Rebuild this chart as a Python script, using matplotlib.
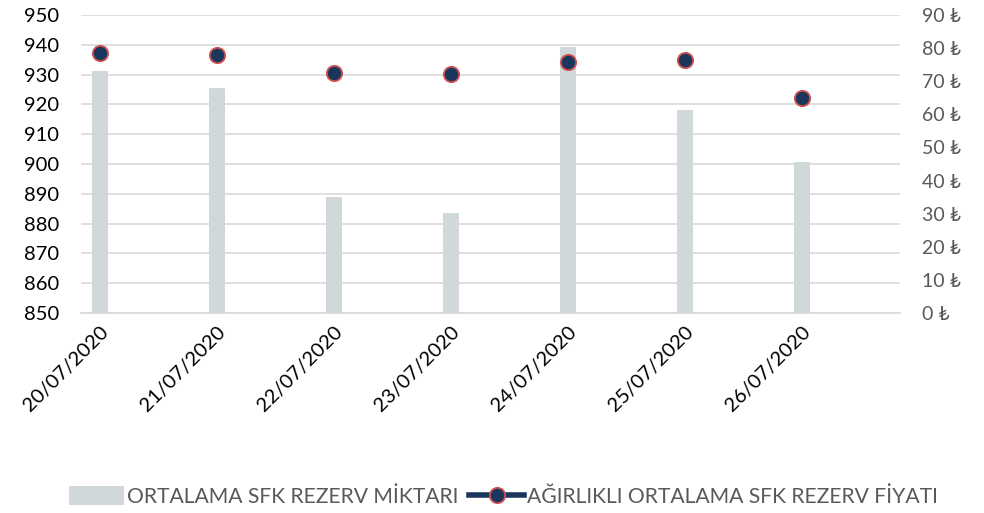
import matplotlib
matplotlib.use("Agg")
import matplotlib.pyplot as plt
from matplotlib.lines import Line2D
from matplotlib.patches import Patch
import numpy as np

plt.rcParams['font.family'] = ['Lato', 'DejaVu Sans']

dates = ["20/07/2020", "21/07/2020", "22/07/2020", "23/07/2020",
         "24/07/2020", "25/07/2020", "26/07/2020"]
miktar = [931.2, 925.4, 888.9, 883.7, 939.3, 918.1, 900.6]
fiyat = [78.6, 78.0, 72.6, 72.2, 75.7, 76.5, 64.8]
left_ticks = [850, 860, 870, 880, 890, 900, 910, 920, 930, 940, 950]
right_ticks = [0, 10, 20, 30, 40, 50, 60, 70, 80, 90]

bar_color = "#D0D8D9"
marker_face = "#1B365D"
marker_edge = "#D0504D"
grid_color = "#D9D9D9"

fig = plt.figure(figsize=(9.84, 5.13), dpi=100)
ax = fig.add_axes([0.0823, 0.3899, 0.8323, 0.5809])
ax2 = ax.twinx()

x = np.arange(len(dates))
ax.bar(x, miktar, width=0.135, color=bar_color, zorder=2)
ax.set_ylim(850, 950)
ax.set_yticks(left_ticks)
ax.set_xlim(-0.162, 6.84)
ax.set_xticks(x)
ax.set_xticklabels(dates, rotation=45, ha='right', rotation_mode='anchor',
                   fontsize=14.5, color='black')
ax.tick_params(axis='x', length=0, pad=7)
ax.tick_params(axis='y', length=0, pad=16, labelsize=14.5, labelcolor='black')
ax.grid(axis='y', color=grid_color, linewidth=1.2, zorder=0)
ax.set_axisbelow(True)
for s in ax.spines.values():
    s.set_visible(False)
ax.spines['bottom'].set_visible(True)
ax.spines['bottom'].set_color(grid_color)
ax.spines['bottom'].set_linewidth(1.2)

ax2.plot(x, fiyat, linestyle='none', marker='o', markersize=11,
         markerfacecolor=marker_face, markeredgecolor=marker_edge,
         markeredgewidth=1.3, zorder=3)
ax2.set_ylim(0, 90)
ax2.set_yticks(right_ticks)
ax2.set_yticklabels([f"{v} ₺" for v in right_ticks])
ax2.tick_params(axis='y', length=0, pad=16, labelsize=14, labelcolor='#595959')
for s in ax2.spines.values():
    s.set_visible(False)

handles = [
    Patch(facecolor=bar_color, edgecolor='none'),
    Line2D([0], [0], color=marker_face, linewidth=4, marker='o', markersize=11,
           markerfacecolor=marker_face, markeredgecolor=marker_edge, markeredgewidth=1.3),
]
labels = ["ORTALAMA SFK REZERV MİKTARI", "AĞIRLIKLI ORTALAMA SFK REZERV FİYATI"]
fig.legend(handles, labels, loc='center', bbox_to_anchor=(0.512, 0.032), ncol=2,
           frameon=False, fontsize=15.2, labelcolor='#595959',
           handlelength=2.6, handleheight=1.0, handletextpad=0.15, columnspacing=0.5)

fig.savefig("out.png", dpi=100)
